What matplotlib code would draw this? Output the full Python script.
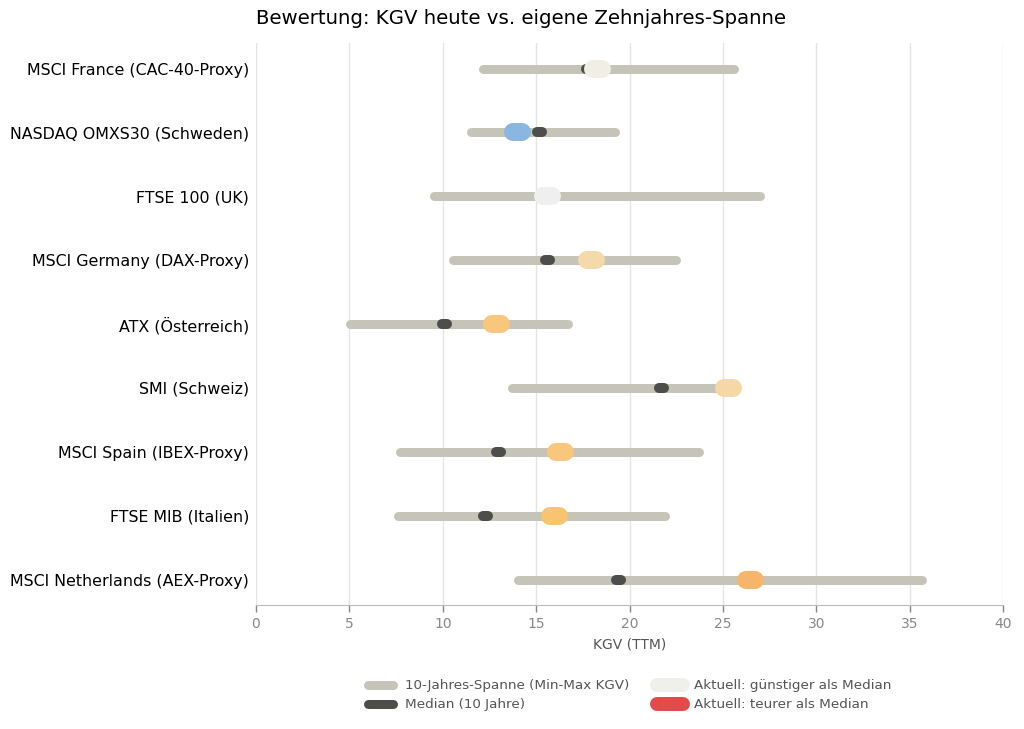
import numpy as np
import matplotlib
matplotlib.use("Agg")
import matplotlib.pyplot as plt
from matplotlib.lines import Line2D

# data (KGV values)
indices = ["MSCI France (CAC-40-Proxy)", "NASDAQ OMXS30 (Schweden)", "FTSE 100 (UK)",
           "MSCI Germany (DAX-Proxy)", "ATX (Österreich)", "SMI (Schweiz)",
           "MSCI Spain (IBEX-Proxy)", "FTSE MIB (Italien)", "MSCI Netherlands (AEX-Proxy)"]
kgv_min = [12.15, 11.5, 9.55, 10.55, 5.05, 13.7, 7.7, 7.6, 14.05]
kgv_max = [25.6, 19.2, 27.0, 22.5, 16.7, 25.5, 23.7, 21.9, 35.65]
kgv_median = [17.8, 15.2, 15.5, 15.6, 10.1, 21.7, 13.0, 12.3, 19.4]
kgv_current = [18.3, 14.0, 15.6, 17.95, 12.9, 25.3, 16.3, 16.0, 26.5]

# colours of the "current" marker (diverging scale)
cur_colors = ["#f1eee5", "#8ab6e2", "#efefef", "#f6d9aa", "#f9c77b",
              "#f6d8a8", "#f9c77b", "#f9c46f", "#f6b56b"]

range_col = "#c4c4b8"
med_col = "#4d4d4b"

dpi = 100
px = 72 / dpi
fig = plt.figure(figsize=(10.24, 7.29), dpi=dpi)
ax = fig.add_axes([0.25, 0.170, 0.7295, 0.771])

y = np.arange(len(indices))
for i in range(len(indices)):
    ax.plot([kgv_min[i], kgv_max[i]], [y[i], y[i]], color=range_col, lw=9 * px,
            solid_capstyle="round", zorder=2)
    ax.plot([kgv_median[i] - 0.13, kgv_median[i] + 0.13], [y[i], y[i]], color=med_col,
            lw=10 * px, solid_capstyle="round", zorder=3)
    ax.plot([kgv_current[i] - 0.24, kgv_current[i] + 0.24], [y[i], y[i]], color=cur_colors[i],
            lw=18 * px, solid_capstyle="round", zorder=4)

ax.set_xlim(0, 40)
ax.set_ylim(8.4, -0.4)
ax.set_yticks(y)
ax.set_yticklabels(indices, fontsize=11.4, color="#000000")
ax.set_xticks(range(0, 41, 5))
ax.tick_params(axis="x", colors="#888888", labelsize=10, length=5, width=1)
ax.tick_params(axis="y", length=0, pad=5)
ax.grid(axis="x", color="#e4e4e0", lw=1)
ax.set_axisbelow(True)
for s in ["top", "right", "left"]:
    ax.spines[s].set_visible(False)
ax.spines["bottom"].set_color("#bbbbbb")
ax.set_xlabel("KGV (TTM)", fontsize=10, color="#555555", labelpad=5)

fig.text(0.509, 0.974, "Bewertung: KGV heute vs. eigene Zehnjahres-Spanne",
         ha="center", va="center", fontsize=14.2, color="#000000")

handles = [
    Line2D([], [], color=range_col, lw=9 * px, solid_capstyle="round"),
    Line2D([], [], color=med_col, lw=9 * px, solid_capstyle="round"),
    Line2D([], [], color="#efefec", lw=14 * px, solid_capstyle="round"),
    Line2D([], [], color="#e34b4b", lw=14 * px, solid_capstyle="round"),
]
labels = ["10-Jahres-Spanne (Min-Max KGV)", "Median (10 Jahre)",
          "Aktuell: günstiger als Median", "Aktuell: teurer als Median"]
fig.legend(handles, labels, loc="center", bbox_to_anchor=(0.615, 0.046), ncol=2,
           frameon=False, fontsize=9.7, labelcolor="#555555", handlelength=1.9,
           handletextpad=0.85, columnspacing=2.1, labelspacing=0.45)

fig.savefig("out.png", dpi=dpi)
